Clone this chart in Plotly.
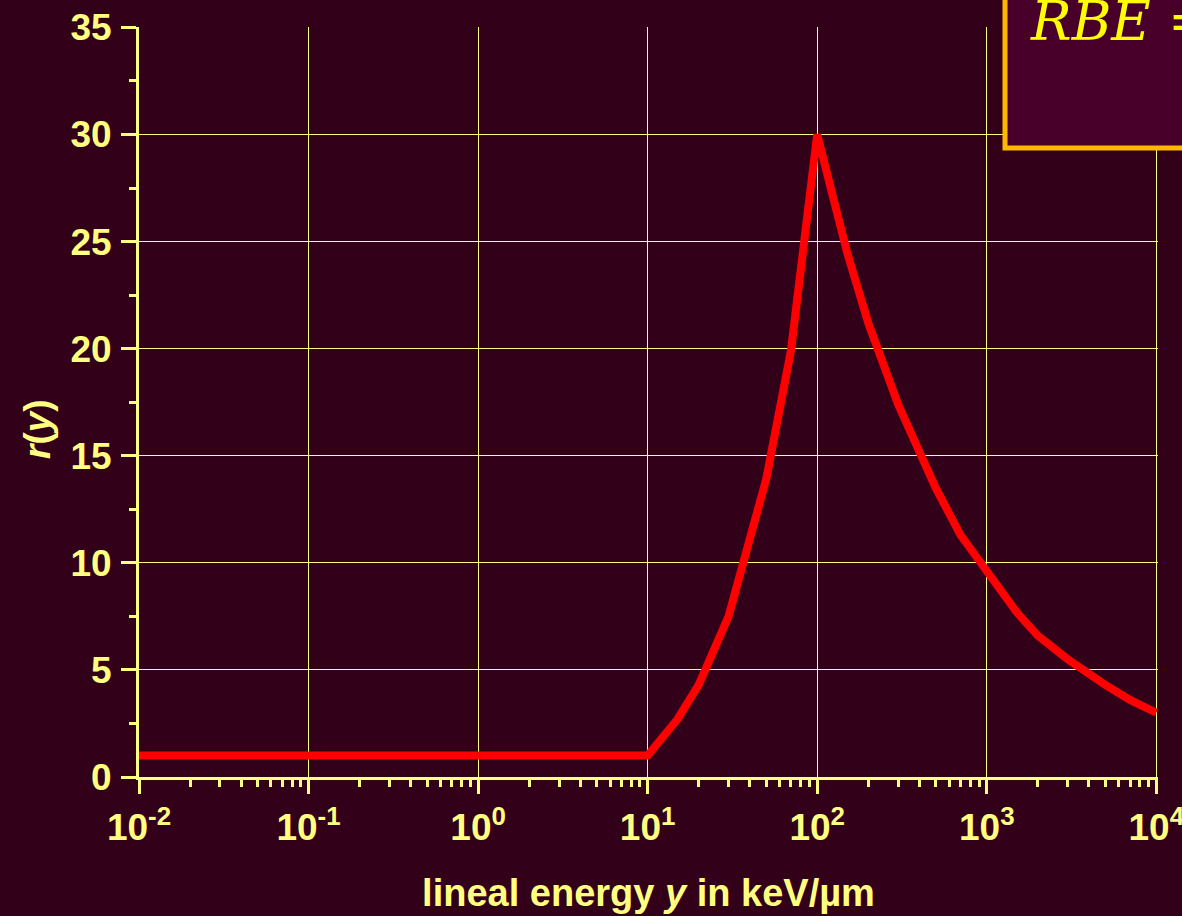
import plotly.graph_objects as go

# Data
lineal_energy = [0.01, 0.07, 0.5, 1, 10, 15, 20, 30, 50, 70, 100, 150, 200, 300,
                 500, 700, 1000, 1500, 2000, 3000, 5000, 7000, 10000]
r_values = [1.0, 1.0, 1.0, 1.0, 1.0, 2.7, 4.3, 7.5, 13.9, 19.9, 30.0, 24.5, 21.2,
            17.4, 13.5, 11.3, 9.6, 7.7, 6.6, 5.5, 4.3, 3.6, 3.0]

x_tickvals = [0.01, 0.1, 1, 10, 100, 1000, 10000]
x_ticktext = ["10<sup>-2</sup>", "10<sup>-1</sup>", "10<sup>0</sup>", "10<sup>1</sup>",
              "10<sup>2</sup>", "10<sup>3</sup>", "10<sup>4</sup>"]
y_tickvals = [0, 5, 10, 15, 20, 25, 30, 35]

BG = "#320019"
YEL = "#FFFF80"

x_minor = [m * 10 ** e for e in range(-2, 4) for m in range(2, 10)]

fig = go.Figure()
fig.add_trace(go.Scatter(
    x=lineal_energy, y=r_values, mode="lines",
    line=dict(color="#FF0000", width=8), showlegend=False,
    hoverinfo="skip", cliponaxis=False,
))

fig.update_layout(
    width=1182, height=916,
    margin=dict(l=139, r=24, t=27, b=139, autoexpand=False),
    paper_bgcolor=BG, plot_bgcolor=BG,
    font=dict(family="Liberation Sans, Arial, sans-serif", color=YEL),
)

fig.update_xaxes(
    type="log", range=[-2, 4.01], automargin=False,
    tickvals=x_tickvals, ticktext=x_ticktext,
    tickfont=dict(size=37, weight="bold", color=YEL),
    ticklabeloverflow="allow",
    ticks="outside", ticklen=14, tickwidth=3, tickcolor=YEL,
    ticklabelstandoff=2,
    showline=True, linecolor=YEL, linewidth=3,
    showgrid=True, gridcolor=YEL, gridwidth=1,
    zeroline=False,
    minor=dict(tickvals=x_minor, ticks="outside", ticklen=7, tickwidth=3,
               tickcolor=YEL, showgrid=False),
    title=dict(text="lineal energy <i>y</i> in keV/µm",
               font=dict(size=38, weight="bold", color=YEL), standoff=32),
)

fig.update_yaxes(
    range=[0, 35.02], automargin=False,
    tickvals=y_tickvals,
    tickfont=dict(size=37, weight="bold", color=YEL),
    ticklabeloverflow="allow",
    ticks="outside", ticklen=15, tickwidth=3, tickcolor=YEL,
    ticklabelstandoff=2,
    showline=True, linecolor=YEL, linewidth=3,
    showgrid=True, gridcolor=YEL, gridwidth=1,
    zeroline=False,
    minor=dict(dtick=2.5, ticks="outside", ticklen=7, tickwidth=3,
               tickcolor=YEL, showgrid=False),
)

# y-axis title placed as an annotation (sits below the plot centre in the reference)
fig.add_annotation(
    xref="paper", yref="paper",
    x=(37 - 139) / 1019, y=(777 - 429) / 750,
    xanchor="center", yanchor="middle", showarrow=False, textangle=-90,
    text="<i>r</i>(<i>y</i>)",
    font=dict(size=37, weight="bold", color=YEL),
)

# Formula box at top right (partially cut off)
fig.add_shape(
    type="rect", xref="paper", yref="paper",
    x0=(1005 - 139) / 1019, x1=1.2, y0=(777 - 148) / 750, y1=1.2,
    fillcolor="#48002A", line=dict(color="#FFB800", width=5), layer="above",
)
fig.add_annotation(
    xref="paper", yref="paper",
    x=(1028 - 139) / 1019, y=(777 + 12) / 750,
    xanchor="left", yanchor="top", showarrow=False,
    text="<i>RBE</i> =",
    font=dict(family="DejaVu Serif, serif", size=54, color="#FFFF00"),
)

fig.write_html("out.html")
